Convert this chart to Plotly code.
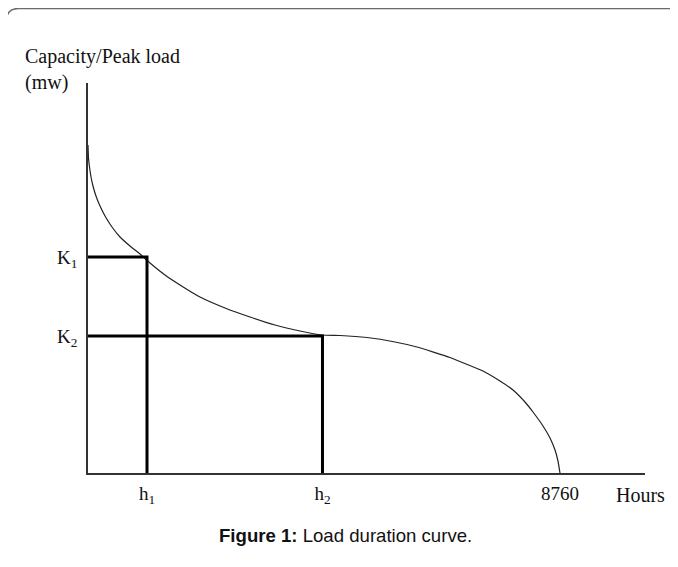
import plotly.graph_objects as go

# ---- data (hours on x, capacity in arbitrary units on y) ----
curve_hours = [0, 9, 28, 56, 93, 148, 223, 316, 445, 594, 779, 965, 1151, 1429, 1707,
               2078, 2543, 3007, 3471, 3935, 4343, 4677, 5178, 5698, 6106, 6718, 7331,
               7646, 7888, 8110, 8259, 8445, 8575, 8668, 8723, 8760]
curve_load = [328, 315, 306, 296, 287, 277, 267, 257, 246, 236, 227, 219, 210, 198, 188,
              176, 165, 156, 148, 142, 138, 137.5, 135.5, 131, 126, 115.5, 102,
              92, 83, 71, 61, 47, 35, 23, 12, 0]

h_values = [1095, 4352, 8760]
h_labels = ["h<sub>1</sub>", "h<sub>2</sub>", "8760"]
k_values = [216, 137]
k_labels = ["K<sub>1</sub>", "K<sub>2</sub>"]

W, H = 678, 567
OFF = 8  # page body margin offset
SERIF = "Liberation Serif, Times New Roman, serif"
SANS = "Liberation Sans, Arial, sans-serif"

fig = go.Figure()

# load duration curve
fig.add_trace(go.Scatter(x=curve_hours, y=curve_load, mode="lines",
                         line=dict(color="#222222", width=1.2, shape="spline", smoothing=0.3),
                         hoverinfo="skip", showlegend=False))

# K1/h1 and K2/h2 guide lines
for hv, kv in zip(h_values[:2], k_values):
    fig.add_trace(go.Scatter(x=[0, hv, hv], y=[kv, kv, 0], mode="lines",
                             line=dict(color="black", width=3),
                             hoverinfo="skip", showlegend=False))

def px_x(p):
    return (p - OFF) / W

def px_y(p):
    return 1 - (p - OFF) / H

fig.update_layout(
    width=W, height=H,
    template="none",
    paper_bgcolor="white", plot_bgcolor="white",
    margin=dict(l=0, r=0, t=0, b=0),
    xaxis=dict(domain=[px_x(88), px_x(645)], range=[0, 10338],
               showgrid=False, zeroline=False, showline=True,
               linecolor="#333333", linewidth=1.6,
               tickvals=h_values, ticktext=h_labels,
               ticks="outside", ticklen=2, tickcolor="rgba(0,0,0,0)",
               tickfont=dict(family=SERIF, size=19, color="#111111"),
               automargin=False, fixedrange=True),
    yaxis=dict(domain=[px_y(473), px_y(83)], range=[0, 390],
               showgrid=False, zeroline=False, showline=True,
               linecolor="#333333", linewidth=1.6,
               tickvals=k_values, ticktext=k_labels,
               ticks="outside", ticklen=5, tickcolor="rgba(0,0,0,0)",
               tickfont=dict(family=SERIF, size=19, color="#111111"),
               automargin=False, fixedrange=True),
    showlegend=False,
)

annotations = [
    dict(text="Capacity/Peak load", x=px_x(23), y=px_y(57), xanchor="left", yanchor="middle",
         font=dict(family=SERIF, size=20, color="#111111")),
    dict(text="(mw)", x=px_x(23), y=px_y(82), xanchor="left", yanchor="middle",
         font=dict(family=SERIF, size=20, color="#111111")),
    dict(text="Hours", x=px_x(614), y=px_y(495), xanchor="left", yanchor="middle",
         font=dict(family=SERIF, size=20, color="#111111")),
    dict(text="<b>Figure 1:</b> Load duration curve.", x=px_x(345), y=px_y(535),
         xanchor="center", yanchor="middle",
         font=dict(family=SANS, size=18.6, color="#111111")),
]
for a in annotations:
    a.update(xref="paper", yref="paper", showarrow=False)
fig.update_layout(annotations=annotations)

# rounded frame (top-left corner visible)
x0, y0, r = 6.5, 8.5, 12
path = (f"M {px_x(x0)} {px_y(H + 2)} L {px_x(x0)} {px_y(y0 + r)} "
        f"Q {px_x(x0)} {px_y(y0)} {px_x(x0 + r)} {px_y(y0)} L {px_x(W + 2)} {px_y(y0)}")
fig.add_shape(type="path", path=path, xref="paper", yref="paper",
              line=dict(color="#6a6a6a", width=1.5))

fig.write_html("out.html")
